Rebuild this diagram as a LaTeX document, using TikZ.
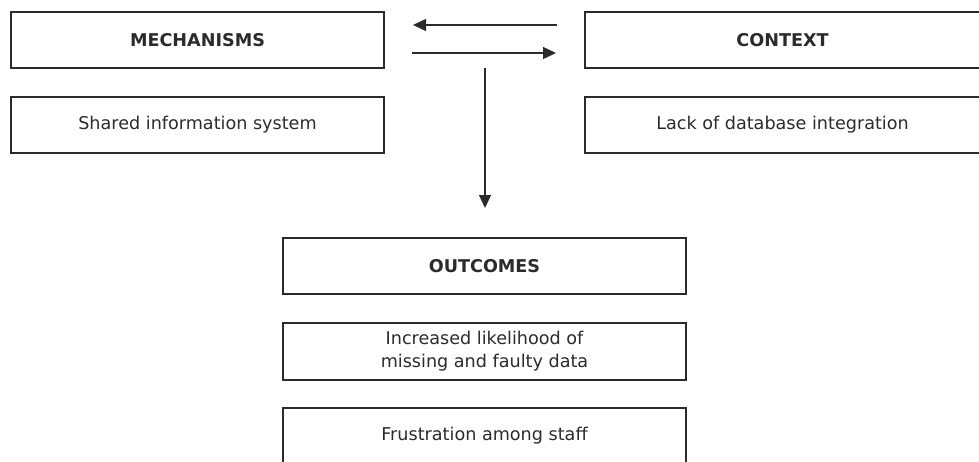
\documentclass[tikz,border=0pt]{standalone}
\usepackage{fontspec}
\setmainfont{DejaVu Sans}
\usetikzlibrary{arrows.meta}
\definecolor{ink}{HTML}{2B2B2B}
\begin{document}
\begin{tikzpicture}[x=1pt,y=-1pt,
  box/.style={draw=ink, line width=1.3pt, rectangle, inner sep=0pt,
    text=ink, font=\fontsize{17.6}{23}\selectfont, align=center},
  head/.style={box, font=\fontsize{17.6}{23}\selectfont\bfseries},
  link/.style={draw=ink, line width=1.3pt, -{Triangle[length=13pt,width=12pt]}}]
\useasboundingbox (0,0) rectangle (979,461);
\clip (0,0) rectangle (979,461);
% upper row: the two headings and their items
\node[head, minimum width=373pt, minimum height=56pt] (mech) at (197.5,40) {MECHANISMS};
\node[box, minimum width=373pt, minimum height=56pt] (shared) at (197.5,125) {Shared information system};
\node[head, minimum width=395pt, minimum height=56pt] (ctx) at (782.5,40) {CONTEXT};
\node[box, minimum width=395pt, minimum height=56pt] (lack) at (782.5,125) {Lack of database integration};
% outcome column
\node[head, minimum width=403pt, minimum height=56pt] (out) at (484.5,266) {OUTCOMES};
\node[box, minimum width=403pt, minimum height=57pt] (incr) at (484.5,351.5) {Increased likelihood of\\missing and faulty data};
\node[box, minimum width=403pt, minimum height=56pt] (frus) at (484.5,436) {Frustration among staff};
% connector end points in the gap between the two rows
\coordinate (a1) at (557,25);
\coordinate (a2) at (413,25);
\coordinate (b1) at (412,53);
\coordinate (b2) at (556,53);
\coordinate (c1) at (485,68);
\coordinate (c2) at (485,208);
\draw[link] (a1) -- (a2);
\draw[link] (b1) -- (b2);
\draw[link] (c1) -- (c2);
\end{tikzpicture}
\end{document}
